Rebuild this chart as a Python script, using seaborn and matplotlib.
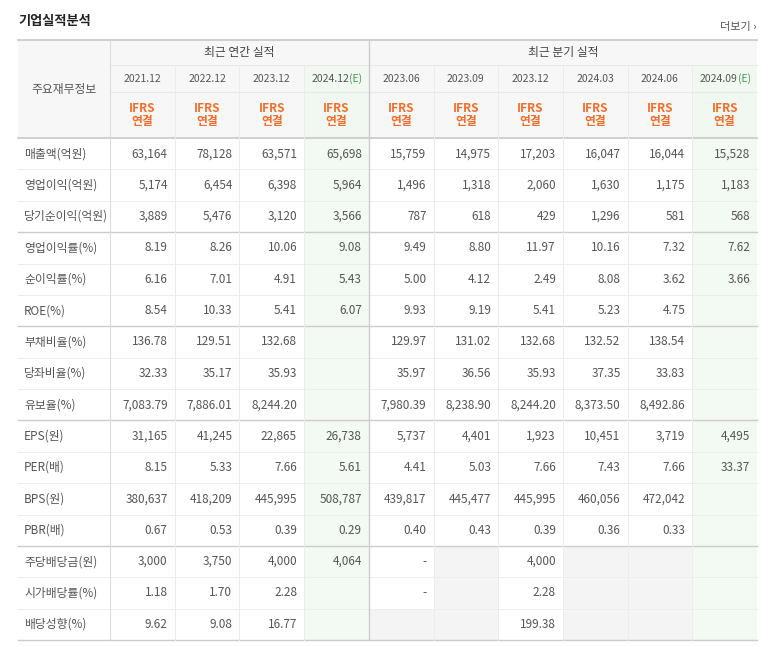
import matplotlib
matplotlib.use("Agg")
import matplotlib.pyplot as plt
import matplotlib.patches as mpatches
from matplotlib.colors import ListedColormap
from matplotlib import font_manager
import numpy as np
import seaborn as sns

avail = {f.name for f in font_manager.fontManager.ttflist}
cands = [n for n in ["Noto Sans CJK KR", "Noto Sans CJK JP", "Noto Sans CJK SC",
                     "Noto Sans CJK TC"] if n in avail]
plt.rcParams["font.family"] = cands + ["DejaVu Sans"]

title = "기업실적분석"
more = "더보기 ›"
label_header = "주요재무정보"
groups = ["최근 연간 실적", "최근 분기 실적"]
periods = ["2021.12", "2022.12", "2023.12", "2024.12", "2023.06", "2023.09",
           "2023.12", "2024.03", "2024.06", "2024.09"]
estimate = [False, False, False, True, False, False, False, False, False, True]
rows = ["매출액(억원)", "영업이익(억원)", "당기순이익(억원)", "영업이익률(%)", "순이익률(%)",
        "ROE(%)", "부채비율(%)", "당좌비율(%)", "유보율(%)", "EPS(원)", "PER(배)",
        "BPS(원)", "PBR(배)", "주당배당금(원)", "시가배당률(%)", "배당성향(%)"]

N = None
sales = ["63,164", "78,128", "63,571", "65,698", "15,759", "14,975", "17,203", "16,047", "16,044", "15,528"]
op_income = ["5,174", "6,454", "6,398", "5,964", "1,496", "1,318", "2,060", "1,630", "1,175", "1,183"]
net_income = ["3,889", "5,476", "3,120", "3,566", "787", "618", "429", "1,296", "581", "568"]
op_margin = ["8.19", "8.26", "10.06", "9.08", "9.49", "8.80", "11.97", "10.16", "7.32", "7.62"]
net_margin = ["6.16", "7.01", "4.91", "5.43", "5.00", "4.12", "2.49", "8.08", "3.62", "3.66"]
roe = ["8.54", "10.33", "5.41", "6.07", "9.93", "9.19", "5.41", "5.23", "4.75", N]
debt_ratio = ["136.78", "129.51", "132.68", N, "129.97", "131.02", "132.68", "132.52", "138.54", N]
quick_ratio = ["32.33", "35.17", "35.93", N, "35.97", "36.56", "35.93", "37.35", "33.83", N]
reserve_ratio = ["7,083.79", "7,886.01", "8,244.20", N, "7,980.39", "8,238.90", "8,244.20", "8,373.50", "8,492.86", N]
eps = ["31,165", "41,245", "22,865", "26,738", "5,737", "4,401", "1,923", "10,451", "3,719", "4,495"]
per = ["8.15", "5.33", "7.66", "5.61", "4.41", "5.03", "7.66", "7.43", "7.66", "33.37"]
bps = ["380,637", "418,209", "445,995", "508,787", "439,817", "445,477", "445,995", "460,056", "472,042", N]
pbr = ["0.67", "0.53", "0.39", "0.29", "0.40", "0.43", "0.39", "0.36", "0.33", N]
dps = ["3,000", "3,750", "4,000", "4,064", "-", N, "4,000", N, N, N]
div_yield = ["1.18", "1.70", "2.28", N, "-", N, "2.28", N, N, N]
payout = ["9.62", "9.08", "16.77", N, N, N, "199.38", N, N, N]
table = [sales, op_income, net_income, op_margin, net_margin, roe, debt_ratio,
         quick_ratio, reserve_ratio, eps, per, bps, pbr, dps, div_yield, payout]

W, H = 773, 647
fig = plt.figure(figsize=(W / 100, H / 100), dpi=100)
fig.patch.set_facecolor("white")

X0, XL, X1 = 18, 110, 757
Y_TOP, Y_DATE, Y_IFRS, Y_BODY, Y_END = 40, 65, 92, 138, 640
ncol, nrow = len(periods), len(rows)
cw = (X1 - XL) / ncol
rh = (Y_END - Y_BODY) / nrow

cat = np.zeros((nrow, ncol))
for r in range(nrow):
    for c in range(ncol):
        if estimate[c]:
            cat[r, c] = 2
        elif table[r][c] is None:
            cat[r, c] = 1
hax = fig.add_axes([XL / W, (H - Y_END) / H, (X1 - XL) / W, (Y_END - Y_BODY) / H])
sns.heatmap(cat, ax=hax, cmap=ListedColormap(["#ffffff", "#f4f4f4", "#f3f9f3"]),
            vmin=0, vmax=2, cbar=False, xticklabels=False, yticklabels=False)
hax.set_axis_off()

ax = fig.add_axes([0, 0, 1, 1])
ax.set_xlim(0, W)
ax.set_ylim(H, 0)
ax.set_axis_off()
ax.patch.set_alpha(0)

txt = "#555555"
ax.text(X0, 21, title, fontsize=9.5, fontweight="bold", color="#222222", va="center")
ax.text(X1, 27, more, fontsize=8, color="#555555", va="center", ha="right")

ax.add_patch(mpatches.Rectangle((X0, Y_TOP), X1 - X0, Y_BODY - Y_TOP, color="#f7f7f7", lw=0, zorder=0))
for c in range(ncol):
    if estimate[c]:
        ax.add_patch(mpatches.Rectangle((XL + c * cw, Y_DATE), cw, Y_BODY - Y_DATE,
                                        color="#f1f7f1", lw=0, zorder=0.5))

ax.text((X0 + XL) / 2, (Y_TOP + Y_BODY) / 2, label_header, fontsize=8.5, color=txt,
        ha="center", va="center")
ax.text(XL + 2 * cw, (Y_TOP + Y_DATE) / 2, groups[0], fontsize=8.5, color="#444444", ha="center", va="center")
ax.text(XL + 7 * cw, (Y_TOP + Y_DATE) / 2, groups[1], fontsize=8.5, color="#444444", ha="center", va="center")

for c, p in enumerate(periods):
    cx = XL + (c + 0.5) * cw
    yd = (Y_DATE + Y_IFRS) / 2
    if estimate[c]:
        ax.text(cx + 13, yd, p, fontsize=7.5, color=txt, ha="right", va="center")
        ax.text(cx + 13, yd, "(E)", fontsize=7.5, color="#3f9a4f", ha="left", va="center")
    else:
        ax.text(cx, yd, p, fontsize=7.5, color=txt, ha="center", va="center")
    ax.text(cx, 108, "IFRS", fontsize=8.5, color="#ee6f2d", fontweight="bold", ha="center", va="center")
    ax.text(cx, 122, "연결", fontsize=8.5, color="#ee6f2d", fontweight="bold", ha="center", va="center")

for r, name in enumerate(rows):
    cy = Y_BODY + (r + 0.5) * rh
    ax.text(X0 + 6, cy, name, fontsize=8.5, color=txt, ha="left", va="center")
    for c in range(ncol):
        v = table[r][c]
        if v is not None:
            ax.text(XL + (c + 1) * cw - 7, cy, v, fontsize=8.5, color=txt, ha="right", va="center")

light = "#e9e9e9"
ax.plot([X0, X1], [Y_TOP, Y_TOP], color="#c8c8c8", lw=1.2)
ax.plot([XL, X1], [Y_DATE, Y_DATE], color=light, lw=0.8)
ax.plot([XL, X1], [Y_IFRS, Y_IFRS], color=light, lw=0.8)
ax.plot([X0, X1], [Y_BODY, Y_BODY], color="#c8c8c8", lw=1.2)
for r in range(1, nrow + 1):
    y = Y_BODY + r * rh
    thick = r in (3, 6, 9, 13, 16)
    ax.plot([X0, X1], [y, y], color="#cccccc" if thick else "#eeeeee", lw=1.0 if thick else 0.7)
ax.plot([XL, XL], [Y_TOP, Y_END], color="#dddddd", lw=0.8)
for c in range(1, ncol):
    x = XL + c * cw
    if c == 4:
        ax.plot([x, x], [Y_TOP, Y_END], color="#cccccc", lw=1.0)
    else:
        ax.plot([x, x], [Y_DATE, Y_END], color="#ececec", lw=0.7)

fig.savefig("out.png", dpi=100)
